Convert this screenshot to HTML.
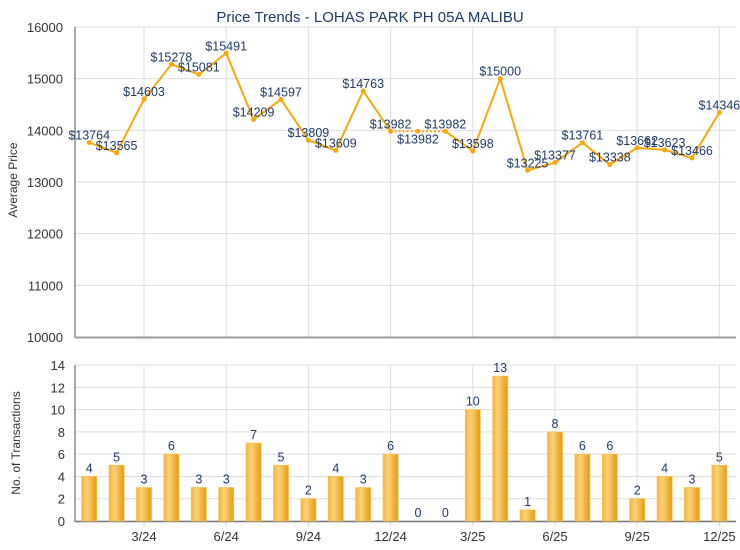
<!DOCTYPE html>
<html><head><meta charset="utf-8"><style>
body{margin:0;background:#fff;}
svg{display:block;font-family:"Liberation Sans",Arial,sans-serif;}
</style></head><body>
<svg id="s" width="740" height="550" xmlns="http://www.w3.org/2000/svg">
<defs>
<linearGradient id="g" x1="0" x2="1" y1="0" y2="0">
<stop offset="0" stop-color="#f2b43a"/>
<stop offset="0.35" stop-color="#fdd27a"/>
<stop offset="1" stop-color="#e59a0c"/>
</linearGradient>
</defs>
<text x="370" y="22" text-anchor="middle" font-size="15" fill="#1f3a68">Price Trends - LOHAS PARK PH 05A MALIBU</text>
<g id="c"></g>
</svg>
<script>
var c=document.getElementById('c'),h='';
var X0=75,X1=736;
function mx(i){return 89.2+27.4*i;}
function py(v){return 27+(16000-v)*0.05167;}
function by(n){return 521-n*11.14;}
for(var v=10000;v<=16000;v+=1000){var y=py(v);h+='<line x1="'+X0+'" x2="'+X1+'" y1="'+y+'" y2="'+y+'" stroke="#dddddd" stroke-width="1"/>';h+='<text x="63" y="'+(y+5)+'" text-anchor="end" font-size="13" fill="#333">'+v+'</text>';}
for(var n=0;n<=14;n+=2){var y=by(n);h+='<line x1="'+X0+'" x2="'+X1+'" y1="'+y+'" y2="'+y+'" stroke="#dddddd"/>';h+='<text x="65" y="'+(y+5)+'" text-anchor="end" font-size="13" fill="#333">'+n+'</text>';}
var lab=['3/24','6/24','9/24','12/24','3/25','6/25','9/25','12/25'];
for(var k=0;k<8;k++){var x=mx(2+3*k);h+='<line x1="'+x+'" x2="'+x+'" y1="27" y2="337" stroke="#dddddd"/><line x1="'+x+'" x2="'+x+'" y1="365" y2="527" stroke="#dddddd"/>';h+='<text x="'+x+'" y="541" text-anchor="middle" font-size="13" fill="#333">'+lab[k]+'</text>';}
h+='<line x1="'+X0+'" x2="'+X0+'" y1="27" y2="338" stroke="#555"/><line x1="'+X0+'" x2="'+X1+'" y1="337.5" y2="337.5" stroke="#999" stroke-width="2"/>';
h+='<line x1="'+X0+'" x2="'+X0+'" y1="365" y2="522" stroke="#555"/><line x1="'+X0+'" x2="'+X1+'" y1="521.5" y2="521.5" stroke="#777" stroke-width="1.5"/>';
h+='<text transform="translate(17,180) rotate(-90)" text-anchor="middle" font-size="12" fill="#333">Average Price</text>';
h+='<text transform="translate(20,443) rotate(-90)" text-anchor="middle" font-size="12" fill="#333">No. of Transactions</text>';
var P=[13764,13565,14603,15278,15081,15491,14209,14597,13809,13609,14763,13982,13982,13982,13598,15000,13225,13377,13761,13338,13662,13623,13466,14346];
var B=[4,5,3,6,3,3,7,5,2,4,3,6,0,0,10,13,1,8,6,6,2,4,3,5];
for(var i=0;i<24;i++){var x=mx(i);if(B[i]>0){var y=by(B[i]);h+='<rect x="'+(x-7.5)+'" y="'+y+'" width="15" height="'+(521-y)+'" fill="url(#g)" stroke="#f5c050" stroke-width="0.8"/>';}
h+='<text x="'+x+'" y="'+(by(B[i])-4)+'" text-anchor="middle" font-size="12.5" fill="#1f3a68">'+B[i]+'</text>';}
for(var i=0;i<23;i++){var d=(i==11||i==12)?' stroke-dasharray="2,2"':'';h+='<line x1="'+mx(i)+'" y1="'+py(P[i])+'" x2="'+mx(i+1)+'" y2="'+py(P[i+1])+'" stroke="#f7a80c" stroke-width="2"'+d+'/>';}
for(var i=0;i<24;i++){var x=mx(i),y=py(P[i]);h+='<circle cx="'+x+'" cy="'+y+'" r="2.5" fill="#f7a80c"/>';var ty=(i==12)?y+12:y-3;h+='<text x="'+x+'" y="'+ty+'" text-anchor="middle" font-size="12.5" fill="#1f3a68">$'+P[i]+'</text>';}
c.innerHTML=h;
</script>
</body></html>
